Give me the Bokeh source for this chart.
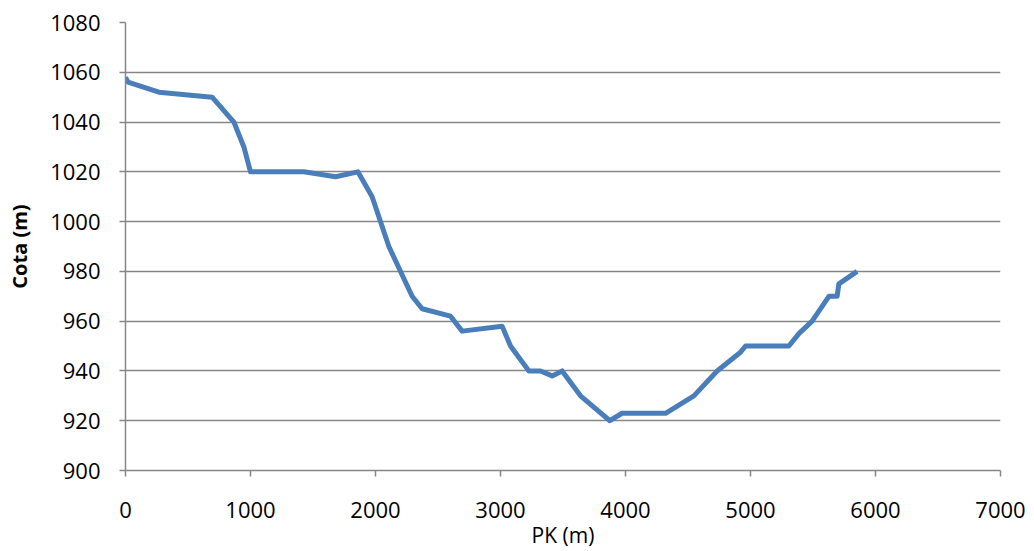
from bokeh.plotting import figure
from bokeh.models import Range1d, FixedTicker
from bokeh.embed import file_html
from bokeh.resources import INLINE

pk = [0, 20, 267, 693, 867, 947, 1000, 1427, 1680, 1859, 1973, 2107, 2293, 2373,
      2600, 2693, 3013, 3080, 3227, 3320, 3413, 3493, 3640, 3875, 3973, 4320,
      4547, 4733, 4920, 4960, 5307, 5387, 5493, 5627, 5693, 5707, 5853]
cota = [1058, 1056, 1052, 1050, 1040, 1030, 1020, 1020, 1018, 1020, 1010, 990, 970, 965,
        962, 956, 958, 950, 940, 940, 938, 940, 930, 920, 923, 923,
        930, 940, 947.5, 950, 950, 955, 960, 970, 970, 975, 980]
x_ticks = [0, 1000, 2000, 3000, 4000, 5000, 6000, 7000]
y_ticks = [900, 920, 940, 960, 980, 1000, 1020, 1040, 1060, 1080]

FONT = "Open Sans"
GRAY = "#868686"

p = figure(width=1034, height=551, output_backend="svg", toolbar_location=None,
           x_range=Range1d(0, 7000), y_range=Range1d(900, 1080),
           min_border_left=125, min_border_right=34, min_border_top=22, min_border_bottom=81)
p.outline_line_color = None
p.background_fill_color = "white"
p.border_fill_color = "white"

p.line(pk, cota, line_color="#4a7ebb", line_width=5, line_join="round")

p.xgrid.grid_line_color = None
p.ygrid.grid_line_color = GRAY
p.ygrid.grid_line_width = 1.5
p.ygrid.ticker = FixedTicker(ticks=y_ticks)

for ax in (p.xaxis[0], p.yaxis[0]):
    ax.axis_line_color = GRAY
    ax.axis_line_width = 1.5
    ax.major_tick_line_color = GRAY
    ax.major_tick_line_width = 1.5
    ax.major_tick_in = 0
    ax.major_tick_out = 6
    ax.minor_tick_line_color = None
    ax.major_label_text_font = FONT
    ax.major_label_text_font_size = "22px"
    ax.major_label_text_color = "black"
    ax.axis_label_text_font = FONT
    ax.axis_label_text_color = "black"

p.xaxis.ticker = FixedTicker(ticks=x_ticks)
p.yaxis.ticker = FixedTicker(ticks=y_ticks)
p.xaxis.axis_label = "PK (m)"
p.xaxis.axis_label_text_font_size = "21px"
p.xaxis.axis_label_text_font_style = "normal"
p.xaxis.major_label_standoff = 25
p.xaxis.axis_label_standoff = 0
p.yaxis.axis_label = "Cota (m)"
p.yaxis.axis_label_text_font_size = "20px"
p.yaxis.axis_label_text_font_style = "bold"
p.yaxis.major_label_standoff = 19
p.yaxis.axis_label_standoff = 14

open("out.html", "w").write(file_html(p, INLINE))
